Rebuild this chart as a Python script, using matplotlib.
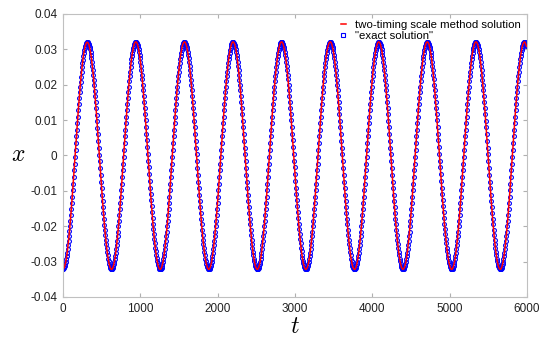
import numpy as np
import matplotlib
matplotlib.use('Agg')
import matplotlib.pyplot as plt

plt.rcParams['font.family'] = ['Liberation Sans', 'DejaVu Sans']
plt.rcParams['mathtext.fontset'] = 'cm'

# 波峰/波谷位置
trough_t = [0, 628, 1257, 1885, 2513, 3142, 3770, 4398, 5027, 5655]
trough_x = [-0.0321, -0.0322, -0.0322, -0.0322, -0.0322, -0.0322, -0.0322, -0.0322, -0.0322, -0.0322]
peak_t = [314, 942, 1571, 2199, 2827, 3456, 4084, 4712, 5341, 5969]
peak_x = [0.0320, 0.0321, 0.0321, 0.0321, 0.0321, 0.0321, 0.0321, 0.0321, 0.0321, 0.0321]
end_t, end_x = 6000, 0.0308
step = 6

# 按时间排序连接极值点
knot_t = np.array(sorted(trough_t + peak_t + [end_t]))
order = np.argsort(trough_t + peak_t + [end_t])
knot_x = np.array(trough_x + peak_x + [end_x])[order]

ts, xs = [], []
for i in range(len(knot_t) - 1):
    t0, t1 = knot_t[i], knot_t[i + 1]
    tt = np.arange(t0, t1, step)
    s = (tt - t0) / (t1 - t0)
    ts.append(tt)
    xs.append(knot_x[i] + (knot_x[i + 1] - knot_x[i]) * (1 - np.cos(np.pi * s)) / 2)
ts.append([end_t])
xs.append([end_x])
t = np.concatenate(ts)
x = np.concatenate(xs)

fig = plt.figure(figsize=(5.5, 3.39), dpi=100)
ax = fig.add_axes([0.1145, 0.124, 0.8435, 0.835])

h2, = ax.plot(t, x, 'o', mfc='none', mec='b', ms=2.8, mew=0.8, label='"exact solution"')
h1, = ax.plot(t, x, '-', color='r', lw=1.1, label='two-timing scale method solution')

ax.set_xlim(0, 6000)
ax.set_ylim(-0.04, 0.04)
ax.set_xticks(np.arange(0, 6001, 1000))
ax.set_yticks(np.arange(-0.04, 0.0401, 0.01))
ax.set_yticklabels(['-0.04', '-0.03', '-0.02', '-0.01', '0', '0.01', '0.02', '0.03', '0.04'])
ax.tick_params(direction='in', top=True, right=True, length=3, color='#b0b0b0',
               labelsize=8.5, labelcolor='#222222', pad=4)
for sp in ax.spines.values():
    sp.set_color('#c0c0c0')
    sp.set_linewidth(0.8)

ax.set_xlabel('$t$', fontsize=17, labelpad=1)
ax.set_ylabel('$x$', fontsize=17, rotation=0, labelpad=9, va='center')

leg = ax.legend(handles=[h1, h2], loc='upper right', fontsize=8.2, frameon=False,
                handlelength=0.5, handletextpad=0.8, borderaxespad=0.1,
                labelspacing=0.1)
lh = leg.legend_handles[1]
lh.set_marker('s')
lh.set_markersize(2.5)
lh.set_markeredgecolor('b')
lh.set_markerfacecolor('none')

plt.savefig('out.png', dpi=100)
